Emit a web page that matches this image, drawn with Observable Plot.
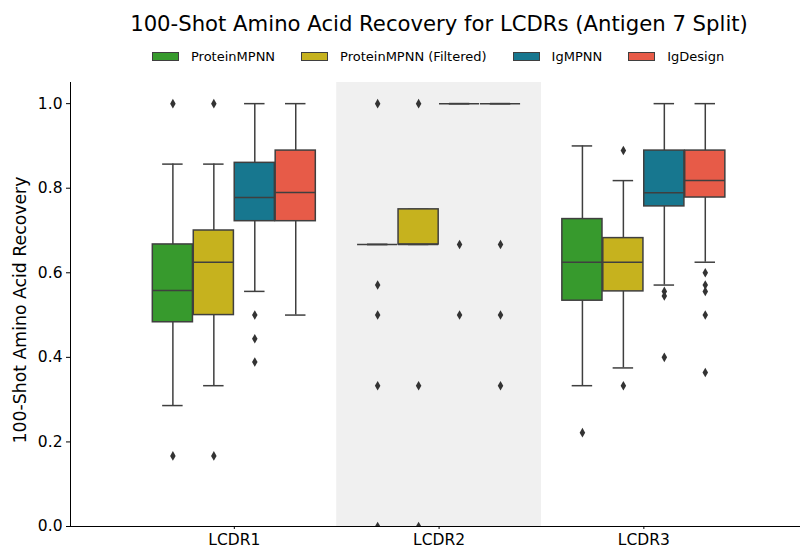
<!DOCTYPE html>
<html>
<head>
<meta charset="utf-8">
<script src="https://cdn.jsdelivr.net/npm/d3@7"></script>
<script src="https://cdn.jsdelivr.net/npm/@observablehq/plot@0.6"></script>
<style>
  body { margin: 0; background: #fff; }
  #wrap { position: relative; width: 800px; height: 550px; font-family: "DejaVu Sans", sans-serif; color: #000; }
  #title { position: absolute; top: 11px; left: 439px; transform: translateX(-50%); white-space: nowrap; font-size: 21.2px; }
  #legend { position: absolute; top: 49px; left: 152px; display: flex; align-items: center; font-size: 13px; white-space: nowrap; }
  .item { display: flex; align-items: center; margin-right: 26px; }
  .sw { width: 25px; height: 7px; border: 1px solid #3f3f3f; margin-right: 12px; }
  #ylabel { position: absolute; left: 20px; top: 310px; transform: translate(-50%, -50%) rotate(-90deg); white-space: nowrap; font-size: 17.3px; }
  #chart { position: absolute; left: 0; top: 0; }
</style>
</head>
<body>
<div id="wrap">
  <div id="chart"></div>
  <div id="title"></div>
  <div id="legend"></div>
  <div id="ylabel"></div>
</div>
<script>
const titleText = "100-Shot Amino Acid Recovery for LCDRs (Antigen 7 Split)";
const yLabelText = "100-Shot Amino Acid Recovery";
const categories = ["LCDR1", "LCDR2", "LCDR3"];
const models = ["ProteinMPNN", "ProteinMPNN (Filtered)", "IgMPNN", "IgDesign"];
const colors = ["#379a2d", "#c6b21e", "#17778f", "#e75b48"];
const yTicks = [0.0, 0.2, 0.4, 0.6, 0.8, 1.0];
const shadedCategories = ["LCDR2"];

// box statistics, one row per model, one column per category (LCDR1, LCDR2, LCDR3)
const lowerWhisker = [
  [0.286, 0.667, 0.333],
  [0.333, 0.667, 0.375],
  [0.556, 1.000, 0.571],
  [0.500, 1.000, 0.625]
];
const q1 = [
  [0.483, 0.667, 0.534],
  [0.500, 0.667, 0.556],
  [0.722, 1.000, 0.757],
  [0.722, 1.000, 0.778]
];
const median = [
  [0.558, 0.667, 0.625],
  [0.625, 0.667, 0.625],
  [0.778, 1.000, 0.789],
  [0.790, 1.000, 0.818]
];
const q3 = [
  [0.667, 0.667, 0.727],
  [0.700, 0.750, 0.682],
  [0.860, 1.000, 0.889],
  [0.889, 1.000, 0.889]
];
const upperWhisker = [
  [0.857, 0.667, 0.900],
  [0.857, 0.750, 0.818],
  [1.000, 1.000, 1.000],
  [1.000, 1.000, 1.000]
];
// outliers: [model index, category index, value]
const outliers = [
  [0, 0, 1.000], [0, 0, 0.167],
  [1, 0, 1.000], [1, 0, 0.167],
  [2, 0, 0.500], [2, 0, 0.444], [2, 0, 0.389],
  [0, 1, 1.000], [0, 1, 0.571], [0, 1, 0.500], [0, 1, 0.333], [0, 1, 0.000],
  [1, 1, 1.000], [1, 1, 0.333], [1, 1, 0.000],
  [2, 1, 0.667], [2, 1, 0.500],
  [3, 1, 0.667], [3, 1, 0.500], [3, 1, 0.333],
  [0, 2, 0.222],
  [1, 2, 0.889], [1, 2, 0.333],
  [2, 2, 0.556], [2, 2, 0.545], [2, 2, 0.400],
  [3, 2, 0.600], [3, 2, 0.571], [3, 2, 0.556], [3, 2, 0.500], [3, 2, 0.364]
];

const hueWidth = 0.8 / models.length;
const boxHalf = hueWidth * 0.49;
const capHalf = hueWidth * 0.25;
const offset = m => (m - (models.length - 1) / 2) * hueWidth;
const xDomain = [-0.8, 2.765];
const yDomain = [0, 1.05];
const edge = "#3f3f3f";

const boxes = [];
models.forEach((name, m) => categories.forEach((cat, c) => {
  boxes.push({
    m, c, x: c + offset(m), color: colors[m],
    lw: lowerWhisker[m][c], q1: q1[m][c], med: median[m][c], q3: q3[m][c], uw: upperWhisker[m][c]
  });
}));
const outlierData = outliers.map(([m, c, v]) => ({x: c + offset(m), v}));

const chart = Plot.plot({
  width: 800,
  height: 550,
  marginTop: 82,
  marginBottom: 24,
  marginLeft: 70,
  marginRight: 0,
  style: {fontFamily: "DejaVu Sans, sans-serif", fontSize: "15px", background: "transparent", color: "#000"},
  x: {type: "linear", domain: xDomain},
  y: {domain: yDomain},
  marks: [
    Plot.rect(shadedCategories, {
      x1: d => categories.indexOf(d) - 0.5, x2: d => categories.indexOf(d) + 0.5,
      y1: yDomain[0], y2: yDomain[1], fill: "#f0f0f0"
    }),
    Plot.ruleX(boxes, {x: "x", y1: "lw", y2: "q1", stroke: edge, strokeWidth: 1.5}),
    Plot.ruleX(boxes, {x: "x", y1: "q3", y2: "uw", stroke: edge, strokeWidth: 1.5}),
    Plot.ruleY(boxes, {y: "lw", x1: d => d.x - capHalf, x2: d => d.x + capHalf, stroke: edge, strokeWidth: 1.5}),
    Plot.ruleY(boxes, {y: "uw", x1: d => d.x - capHalf, x2: d => d.x + capHalf, stroke: edge, strokeWidth: 1.5}),
    Plot.rect(boxes, {
      x1: d => d.x - boxHalf, x2: d => d.x + boxHalf, y1: "q1", y2: "q3",
      fill: "color", stroke: edge, strokeWidth: 1.5
    }),
    Plot.ruleY(boxes, {y: "med", x1: d => d.x - boxHalf, x2: d => d.x + boxHalf, stroke: edge, strokeWidth: 1.5}),
    Plot.dot(outlierData, {x: "x", y: "v", symbol: "diamond", r: 2.9, fill: "#333", stroke: "none", clip: true}),
    Plot.ruleX([xDomain[0]], {stroke: "#000", strokeWidth: 1}),
    Plot.ruleY([yDomain[0]], {stroke: "#000", strokeWidth: 1}),
    Plot.axisY({ticks: yTicks, tickFormat: d3.format(".1f"), tickSize: 4, tickPadding: 4, fontSize: 15.5, label: null}),
    Plot.axisX({ticks: categories.map((d, i) => i), tickFormat: i => categories[i], tickSize: 3, tickPadding: 4, fontSize: 15.5, label: null})
  ]
});
document.getElementById("chart").appendChild(chart);
document.getElementById("title").textContent = titleText;
document.getElementById("ylabel").textContent = yLabelText;
const legend = document.getElementById("legend");
models.forEach((name, i) => {
  const item = document.createElement("div");
  item.className = "item";
  const sw = document.createElement("div");
  sw.className = "sw";
  sw.style.background = colors[i];
  const label = document.createElement("span");
  label.textContent = name;
  item.appendChild(sw);
  item.appendChild(label);
  legend.appendChild(item);
});
</script>
</body>
</html>
